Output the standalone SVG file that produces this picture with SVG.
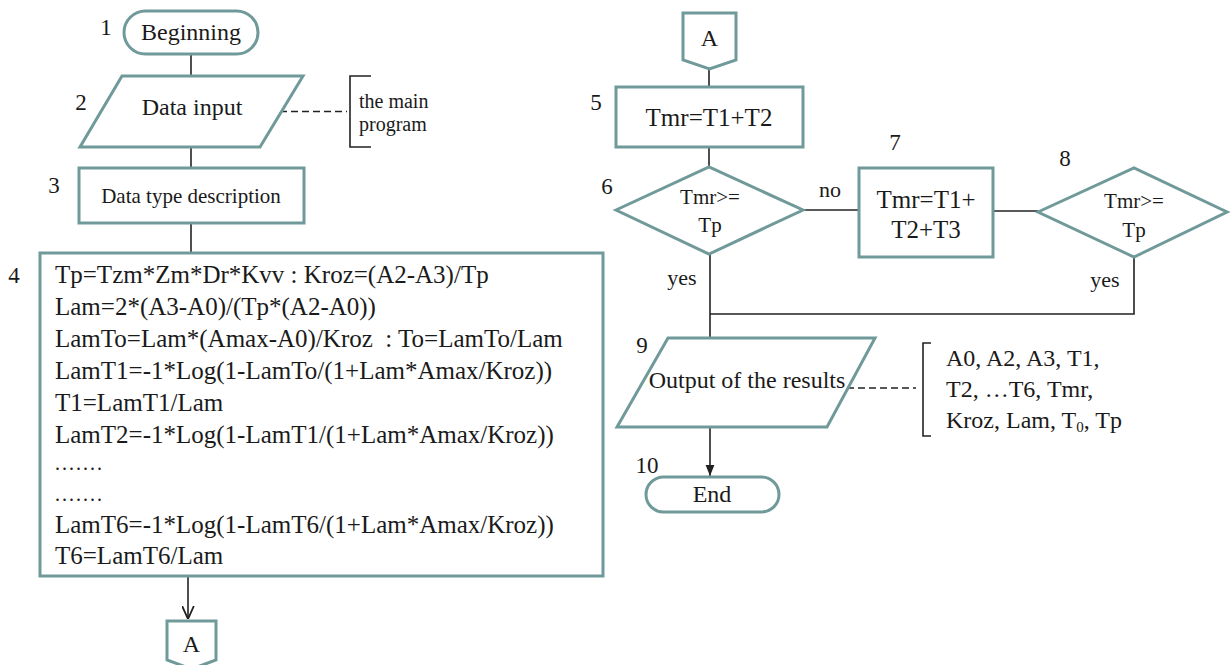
<svg xmlns="http://www.w3.org/2000/svg" width="1230" height="665" viewBox="0 0 1230 665">
<style>
.s{fill:#fff;stroke:#70999a;stroke-width:3}
.t{font-family:"Liberation Serif","Times New Roman",serif;fill:#1a1a1a;font-size:24px}
.m{text-anchor:middle}
.n{font-size:23px}
.c{fill:none;stroke:#222;stroke-width:1.6}
.d{fill:none;stroke:#222;stroke-width:1.6;stroke-dasharray:7 4}
.bx{font-size:25px}
</style>
<defs>
<marker id="open" viewBox="0 0 10 10" refX="10" refY="5" markerWidth="13" markerHeight="13" markerUnits="userSpaceOnUse" orient="auto">
<path d="M0,0.5 L10,5 L0,9.5" fill="none" stroke="#222" stroke-width="1.4"/>
</marker>
<marker id="fill" viewBox="0 0 10 10" refX="10" refY="5" markerWidth="11" markerHeight="11" markerUnits="userSpaceOnUse" orient="auto">
<path d="M0,1 L10,5 L0,9 z" fill="#222"/>
</marker>
</defs>
<rect width="1230" height="665" fill="#fff"/>

<g id="connectors">
<path class="c" d="M191,54 V76"/>
<path class="c" d="M191,147 V168"/>
<path class="c" d="M191,223 V253"/>
<path class="c" d="M188,577 V619" marker-end="url(#open)"/>
<path class="c" d="M709,69 V87"/>
<path class="c" d="M709,147 V167"/>
<path class="c" d="M710,254 V338"/>
<path class="c" d="M803,210 H859"/>
<path class="c" d="M993,211 H1038"/>
<path class="c" d="M1134,257 V314 H710"/>
<path class="c" d="M710,427 V476" marker-end="url(#fill)"/>
<path class="d" d="M280,111.5 H347"/>
<path class="d" d="M847,388 H916"/>
</g>

<g id="n1">
<rect class="s" x="124" y="11" width="134" height="43" rx="21.5"/>
<text class="t m" x="191" y="40">Beginning</text>
<text class="t n m" x="106" y="35">1</text>
</g>

<g id="n2">
<polygon class="s" points="122,76 303,76 260,147 80,147"/>
<text class="t m" x="192" y="115">Data input</text>
<text class="t n m" x="81" y="110">2</text>
</g>

<g id="note2">
<path class="c" d="M371,76 H350 V147 H371"/>
<text class="t" x="359" y="108" style="font-size:20px">the main</text>
<text class="t" x="359" y="131" style="font-size:20px">program</text>
</g>

<g id="n3">
<rect class="s" x="79" y="168" width="225" height="55"/>
<text class="t m" x="191" y="203" style="font-size:21px">Data type description</text>
<text class="t n m" x="54" y="193">3</text>
</g>

<g id="n4">
<rect class="s" x="40" y="253" width="563" height="323"/>
<text class="t n m" x="14" y="283">4</text>
<text class="t bx" x="55" y="283">Tp=Tzm*Zm*Dr*Kvv : Kroz=(A2-A3)/Tp</text>
<text class="t bx" x="55" y="315">Lam=2*(A3-A0)/(Tp*(A2-A0))</text>
<text class="t bx" x="55" y="347" xml:space="preserve">LamTo=Lam*(Amax-A0)/Kroz  : To=LamTo/Lam</text>
<text class="t bx" x="55" y="379">LamT1=-1*Log(1-LamTo/(1+Lam*Amax/Kroz))</text>
<text class="t bx" x="55" y="411">T1=LamT1/Lam</text>
<text class="t bx" x="55" y="443">LamT2=-1*Log(1-LamT1/(1+Lam*Amax/Kroz))</text>
<text class="t" x="55" y="470" style="font-size:20px;letter-spacing:2px">.......</text>
<text class="t" x="55" y="501" style="font-size:20px;letter-spacing:2px">.......</text>
<text class="t bx" x="55" y="533">LamT6=-1*Log(1-LamT6/(1+Lam*Amax/Kroz))</text>
<text class="t bx" x="55" y="564">T6=LamT6/Lam</text>
</g>

<g id="connA1">
<polygon class="s" points="167,621 216,621 216,660 191.5,669 167,660"/>
<text class="t m" x="191.5" y="652">A</text>
</g>

<g id="connA2">
<polygon class="s" points="683,13 736,13 736,60 709.5,69 683,60"/>
<text class="t m" x="709.5" y="46">A</text>
</g>

<g id="n5">
<rect class="s" x="616" y="87" width="187" height="60"/>
<text class="t m bx" x="709" y="126">Tmr=T1+T2</text>
<text class="t n m" x="596" y="110">5</text>
</g>

<g id="n6">
<polygon class="s" points="616,210 709,167 803,210 709,254"/>
<text class="t m" x="710" y="204" style="font-size:21px">Tmr&gt;=</text>
<text class="t m" x="710" y="232" style="font-size:21px">Tp</text>
<text class="t n m" x="607" y="194">6</text>
<text class="t m" x="830" y="197" style="font-size:22px">no</text>
<text class="t m" x="682" y="285" style="font-size:22px">yes</text>
</g>

<g id="n7">
<rect class="s" x="859" y="168" width="134" height="89"/>
<text class="t m bx" x="926" y="208">Tmr=T1+</text>
<text class="t m bx" x="926" y="238">T2+T3</text>
<text class="t n m" x="895" y="150">7</text>
</g>

<g id="n8">
<polygon class="s" points="1038,212 1134,168 1227,212 1134,257"/>
<text class="t m" x="1134" y="208" style="font-size:21px">Tmr&gt;=</text>
<text class="t m" x="1134" y="237" style="font-size:21px">Tp</text>
<text class="t n m" x="1065" y="166">8</text>
<text class="t m" x="1105" y="287" style="font-size:22px">yes</text>
</g>

<g id="n9">
<polygon class="s" points="668,338 875,338 827,427 617,427"/>
<text class="t m" x="747" y="388">Output of the results</text>
<text class="t n m" x="642" y="353">9</text>
</g>

<g id="note9">
<path class="c" d="M931,343 H923 V436 H931"/>
<text class="t" x="946" y="366">A0, A2, A3, T1,</text>
<text class="t" x="946" y="397">T2, …T6, Tmr,</text>
<text class="t" x="946" y="428">Kroz, Lam, T<tspan style="font-size:15px" dy="4">0</tspan><tspan dy="-4">, Tp</tspan></text>
</g>

<g id="n10">
<rect class="s" x="646" y="477" width="133" height="35" rx="17.5"/>
<text class="t m" x="712" y="502">End</text>
<text class="t n m" x="647" y="473">10</text>
</g>
</svg>
